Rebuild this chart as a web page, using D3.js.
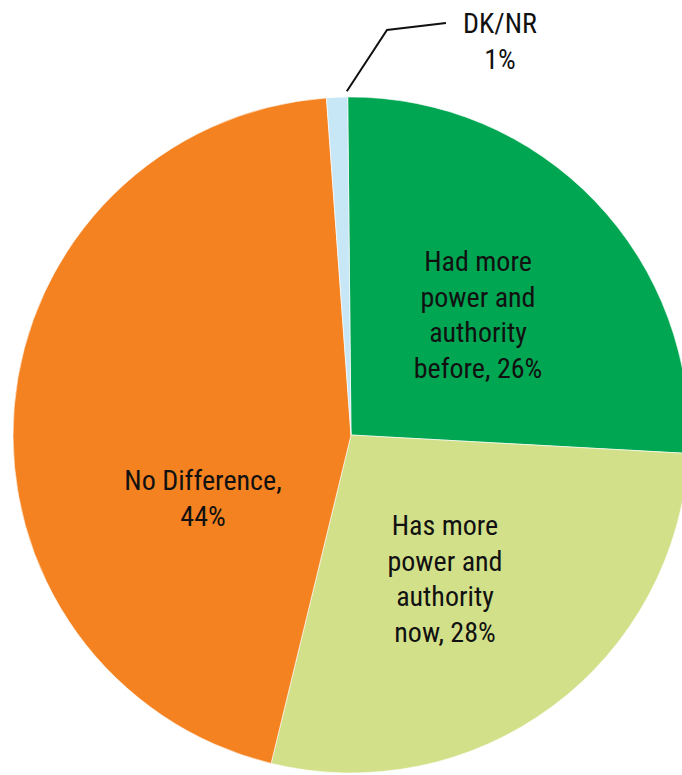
<!DOCTYPE html>
<html>
<head>
<meta charset="utf-8">
<script src="https://cdn.jsdelivr.net/npm/d3@7"></script>
<style>
html,body{margin:0;padding:0;background:#fff;}
svg{display:block;}
text{font-family:"Liberation Sans Narrow","Roboto Condensed","DejaVu Sans Condensed",sans-serif;font-stretch:condensed;fill:#111;}
</style>
</head>
<body>
<svg id="chart" width="682" height="775"></svg>
<script>
const categories = ["Had more power and authority before", "Has more power and authority now", "No Difference", "DK/NR"];
const values = [26, 27.9, 45, 1];
const labelLines = [
  ["Had more", "power and", "authority", "before, 26%"],
  ["Has more", "power and", "authority", "now, 28%"],
  ["No Difference,", "44%"],
  ["DK/NR", "1%"]
];
const colors = ["#00a651", "#d3e08a", "#f58220", "#c8e7f6"];

const W = 682, H = 775;
const cx = 351, cy = 435, R = 338;
const svg = d3.select("#chart");
const g = svg.append("g").attr("transform", `translate(${cx},${cy})`);

const off = -0.0098;
const pie = d3.pie().sort(null).value(d => d).startAngle(off).endAngle(2 * Math.PI + off);
const arcs = pie(values);
const arc = d3.arc().innerRadius(0).outerRadius(R);

g.selectAll("path.slice").data(arcs).enter().append("path")
  .attr("class", "slice")
  .attr("d", arc)
  .attr("fill", (d, i) => colors[i])
  .attr("stroke", "#fff")
  .attr("stroke-width", 0.6);

// label anchor positions (first baseline), relative to center
const labelPos = [
  {x: 127, y: -164},
  {x: 94, y: 100},
  {x: -148, y: 55},
  {x: 149, y: -402}
];
const lineH = 35.5;
labelLines.forEach((lines, i) => {
  const t = g.append("text")
    .attr("text-anchor", "middle")
    .attr("font-size", 28)
    .attr("x", labelPos[i].x)
    .attr("y", labelPos[i].y);
  lines.forEach((s, j) => {
    t.append("tspan").attr("x", labelPos[i].x).attr("dy", j === 0 ? 0 : lineH).text(s);
  });
});

// leader line for DK/NR from outer arc midpoint
const dk = arcs[3];
const mid = (dk.startAngle + dk.endAngle) / 2;
const p0 = [Math.sin(mid) * (R + 6), -Math.cos(mid) * (R + 6)];
g.append("polyline")
  .attr("points", [[p0[0] + 10, p0[1]], [36, -405], [95, -412]].map(p => p.join(",")).join(" "))
  .attr("fill", "none")
  .attr("stroke", "#111")
  .attr("stroke-width", 2);
</script>
</body>
</html>
